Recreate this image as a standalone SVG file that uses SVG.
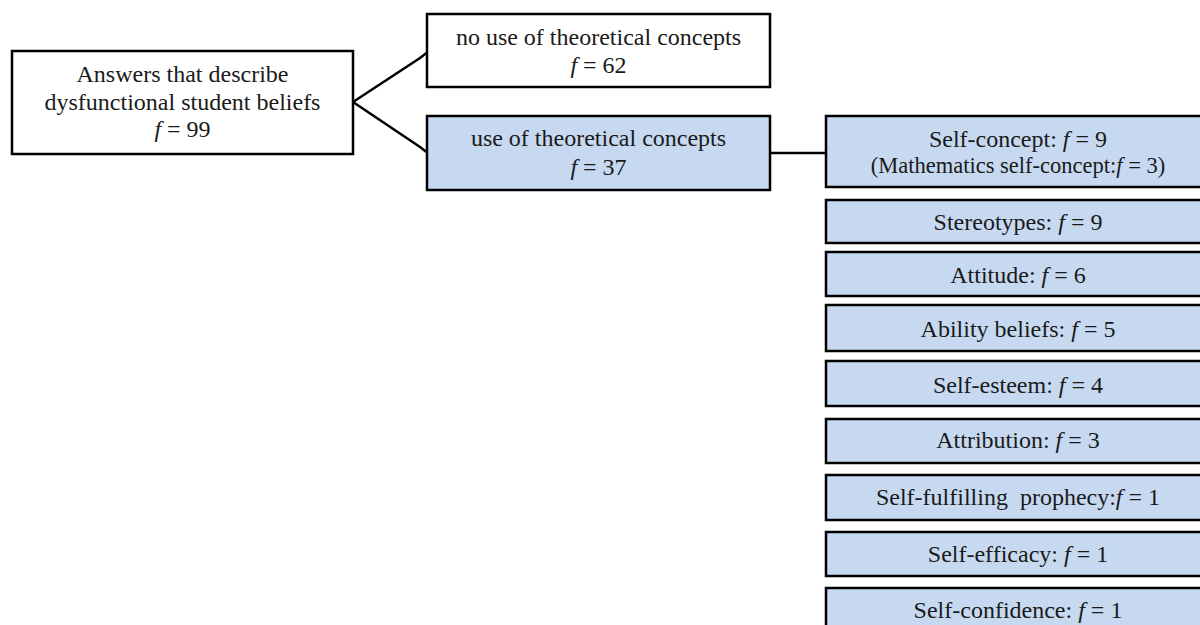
<svg xmlns="http://www.w3.org/2000/svg" width="1200" height="625" viewBox="0 0 1200 625">
<style>
.box{stroke:#000;stroke-width:2.5}
.w{fill:#fff}
.b{fill:#c6d9f1}
text{font-family:"Liberation Serif","Times New Roman",serif;font-size:24px;fill:#1a1a1a;text-anchor:middle}
.sm{font-size:22.5px}
.i{font-style:italic}
.conn{stroke:#000;stroke-width:2.5;fill:none}
</style>
<rect width="1200" height="625" fill="#fff"/>
<g id="connectors">
<path class="conn" d="M353,102 L420,58 Q425,54 428,52"/>
<path class="conn" d="M353,102 L420,147 Q425,151 428,153"/>
<path class="conn" d="M770,153 L826,153"/>
</g>
<g id="root">
<rect class="box w" x="12" y="51" width="341" height="103"/>
<text x="182.5" y="82">Answers that describe</text>
<text x="182.5" y="110">dysfunctional student beliefs</text>
<text x="182.5" y="137"><tspan class="i">f</tspan> = 99</text>
</g>
<g id="no-use">
<rect class="box w" x="427" y="14" width="343" height="73"/>
<text x="598.5" y="45">no use of theoretical concepts</text>
<text x="598.5" y="73"><tspan class="i">f</tspan> = 62</text>
</g>
<g id="use">
<rect class="box b" x="427" y="116" width="343" height="74"/>
<text x="598.5" y="146">use of theoretical concepts</text>
<text x="598.5" y="175"><tspan class="i">f</tspan> = 37</text>
</g>
<g id="self-concept">
<rect class="box b" x="826" y="116" width="390" height="71"/>
<text x="1018" y="147">Self-concept: <tspan class="i">f</tspan> = 9</text>
<text class="sm" x="1018" y="173">(Mathematics self-concept:<tspan class="i">f</tspan> = 3)</text>
</g>
<g id="stereotypes">
<rect class="box b" x="826" y="200" width="390" height="43"/>
<text x="1018" y="230">Stereotypes: <tspan class="i">f</tspan> = 9</text>
</g>
<g id="attitude">
<rect class="box b" x="826" y="252" width="390" height="44"/>
<text x="1018" y="283">Attitude: <tspan class="i">f</tspan> = 6</text>
</g>
<g id="ability">
<rect class="box b" x="826" y="305" width="390" height="46"/>
<text x="1018" y="337">Ability beliefs: <tspan class="i">f</tspan> = 5</text>
</g>
<g id="self-esteem">
<rect class="box b" x="826" y="361" width="390" height="45"/>
<text x="1018" y="393">Self-esteem: <tspan class="i">f</tspan> = 4</text>
</g>
<g id="attribution">
<rect class="box b" x="826" y="419" width="390" height="44"/>
<text x="1018" y="448">Attribution: <tspan class="i">f</tspan> = 3</text>
</g>
<g id="self-fulfilling">
<rect class="box b" x="826" y="475" width="390" height="45"/>
<text x="1018" y="505" xml:space="preserve">Self-fulfilling  prophecy:<tspan class="i">f</tspan> = 1</text>
</g>
<g id="self-efficacy">
<rect class="box b" x="826" y="532" width="390" height="44"/>
<text x="1018" y="562">Self-efficacy: <tspan class="i">f</tspan> = 1</text>
</g>
<g id="self-confidence">
<rect class="box b" x="826" y="588" width="390" height="50"/>
<text x="1018" y="618">Self-confidence: <tspan class="i">f</tspan> = 1</text>
</g>
</svg>
